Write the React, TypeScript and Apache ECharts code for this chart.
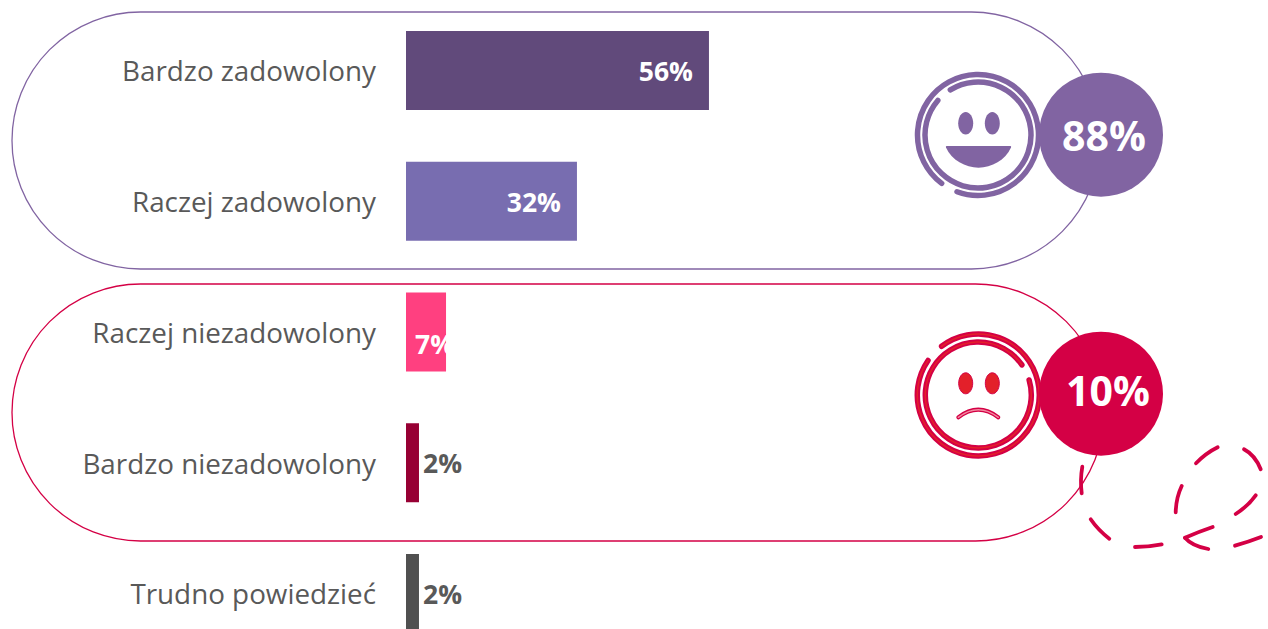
import React, { useEffect, useRef } from "react";
import * as echarts from "echarts";

const categories = ["Bardzo zadowolony", "Raczej zadowolony", "Raczej niezadowolony", "Bardzo niezadowolony", "Trudno powiedzieć"];
const values = [56, 31.6, 7.4, 2.4, 2.4];
const tickLabels = ["56%", "32%", "7%", "2%", "2%"];
const barColors = ["#614a7b", "#786db0", "#ff4080", "#970034", "#505050"];
const summaryPositive = "88%";
const summaryNegative = "10%";

const PURPLE = "#8164a2";
const CRIMSON = "#d40045";
const RED = "#e3202a";
const FONT = "'Open Sans', sans-serif";

// scribble strokes: [x1, y1, cx, cy, x2, y2]
const scribble = [
  [1082.3, 466.7, 1080, 480, 1081.7, 493.3],
  [1090.7, 519.3, 1098, 530, 1109.3, 538.7],
  [1135, 547, 1148, 547, 1161.7, 544.3],
  [1212.7, 527, 1198, 532, 1185, 537.7],
  [1185, 537.7, 1192, 546, 1208.3, 549],
  [1235, 545.7, 1248, 542, 1261, 537],
  [1175.7, 512.3, 1176, 498, 1181.7, 486],
  [1196, 463.3, 1206, 453, 1217.7, 447.3],
  [1244, 449.3, 1255, 455, 1260.7, 469.3],
  [1235.7, 514, 1248, 506, 1255.7, 495.3],
];

echarts.graphic.registerShape("smileMouth", echarts.graphic.extendPath("M1 0 L65 0 Q66 0 65.5 1.5 C60 14 46 21.7 33 21.7 C20 21.7 6 14 0.5 1.5 Q0 0 1 0 Z", {}));

const rad = (d: number) => (d * Math.PI) / 180;

function arc(cx: number, cy: number, r: number, a: number, b: number, stroke: string, w: number) {
  return {
    type: "arc",
    shape: { cx, cy, r, startAngle: rad(a), endAngle: rad(b), clockwise: true },
    style: { stroke, lineWidth: w, fill: "none", lineCap: "round" },
  };
}

function App() {
  const ref = useRef<HTMLDivElement>(null);
  useEffect(() => {
    document.body.style.margin = "0";
    document.body.style.overflow = "hidden";
    const chart = echarts.init(ref.current!, undefined, { renderer: "svg" });
    const sx = 978, sy = 135, fx = 978.3, fy = 395;
    const graphic: any[] = [
      { type: "rect", shape: { x: 12, y: 12, width: 1088, height: 257, r: 128.5 }, style: { fill: "none", stroke: PURPLE, lineWidth: 1.3 } },
      { type: "rect", shape: { x: 12, y: 284, width: 1092, height: 257, r: 128.5 }, style: { fill: "none", stroke: CRIMSON, lineWidth: 1.3 } },
      // positive face
      arc(sx, sy, 60.5, 126.9, 470.3, PURPLE, 5.5),
      arc(sx, sy, 53, 238.5, 580.7, PURPLE, 5.5),
      { type: "ellipse", shape: { cx: 965.7, cy: 123.3, rx: 7.5, ry: 11.3 }, style: { fill: PURPLE } },
      { type: "ellipse", shape: { cx: 992.3, cy: 123.3, rx: 7.5, ry: 11.3 }, style: { fill: PURPLE } },
      { type: "smileMouth", x: 945.5, y: 146, style: { fill: PURPLE } },
      { type: "circle", shape: { cx: 1101, cy: 134.7, r: 62 }, style: { fill: PURPLE } },
      { type: "text", x: 1104, y: 135, style: { text: summaryPositive, fill: "#fff", font: `bold 41px ${FONT}`, textAlign: "center", textVerticalAlign: "middle" } },
      // negative face
      arc(fx, fy, 61, 233, 574.5, CRIMSON, 5.5),
      arc(fx, fy, 61, 233, 574.5, RED, 1.5),
      arc(fx, fy, 53, 343.5, 685.4, CRIMSON, 5.5),
      arc(fx, fy, 53, 343.5, 685.4, RED, 1.5),
      { type: "ellipse", shape: { cx: 965.7, cy: 383.3, rx: 7, ry: 10.5 }, style: { fill: RED, stroke: CRIMSON, lineWidth: 1 } },
      { type: "ellipse", shape: { cx: 992.3, cy: 383.3, rx: 7, ry: 10.5 }, style: { fill: RED, stroke: CRIMSON, lineWidth: 1 } },
      { type: "bezierCurve", shape: { x1: 958.3, y1: 417.3, x2: 998.3, y2: 417.3, cpx1: 978.3, cpy1: 402 }, style: { stroke: CRIMSON, lineWidth: 4, fill: "none", lineCap: "round" } },
      { type: "bezierCurve", shape: { x1: 958.3, y1: 417.3, x2: 998.3, y2: 417.3, cpx1: 978.3, cpy1: 402 }, style: { stroke: "#f28aa0", lineWidth: 1.5, fill: "none", lineCap: "round" } },
      { type: "circle", shape: { cx: 1101, cy: 393.7, r: 62 }, style: { fill: CRIMSON } },
      { type: "text", x: 1108, y: 390, style: { text: summaryNegative, fill: "#fff", font: `bold 41px ${FONT}`, textAlign: "center", textVerticalAlign: "middle" } },
      ...scribble.map(([x1, y1, cx, cy, x2, y2]) => ({
        type: "bezierCurve",
        shape: { x1, y1, x2, y2, cpx1: cx, cpy1: cy },
        style: { stroke: CRIMSON, lineWidth: 3.8, fill: "none", lineCap: "round" },
      })),
    ];
    const labelFor = (i: number) => {
      const base = { show: true, formatter: tickLabels[i], fontFamily: FONT, fontWeight: "bold" as const, fontSize: 26.5 };
      if (i < 2) return { ...base, color: "#fff", position: "insideRight" as const, distance: 16, offset: [0, 0.5] };
      if (i === 2) return { ...base, color: "#fff", position: "insideLeft" as const, distance: 9, offset: [0, 12] };
      return { ...base, color: "#595959", position: "right" as const, distance: 4, offset: [0, 0.5] };
    };
    chart.setOption({
      animation: false,
      backgroundColor: "#fff",
      grid: { left: 406, top: 5.1, width: 541, height: 653.75 },
      xAxis: { type: "value", min: 0, max: 100, show: false },
      yAxis: {
        type: "category",
        inverse: true,
        data: categories,
        axisLine: { show: false },
        axisTick: { show: false },
        axisLabel: { color: "#595959", fontFamily: FONT, fontSize: 27.8, margin: 30, padding: [0, 0, 3, 0] },
      },
      graphic: { elements: graphic },
      series: [
        {
          type: "bar",
          barWidth: 79,
          z: 5,
          data: values.map((value, i) => ({ value, itemStyle: { color: barColors[i] }, label: labelFor(i) })),
        },
      ],
    });
    return () => chart.dispose();
  }, []);
  return (
    <div style={{ width: 1268, height: 629, overflow: "hidden" }}>
      <div ref={ref} style={{ width: 1268, height: 670 }} />
    </div>
  );
}

export default App;
